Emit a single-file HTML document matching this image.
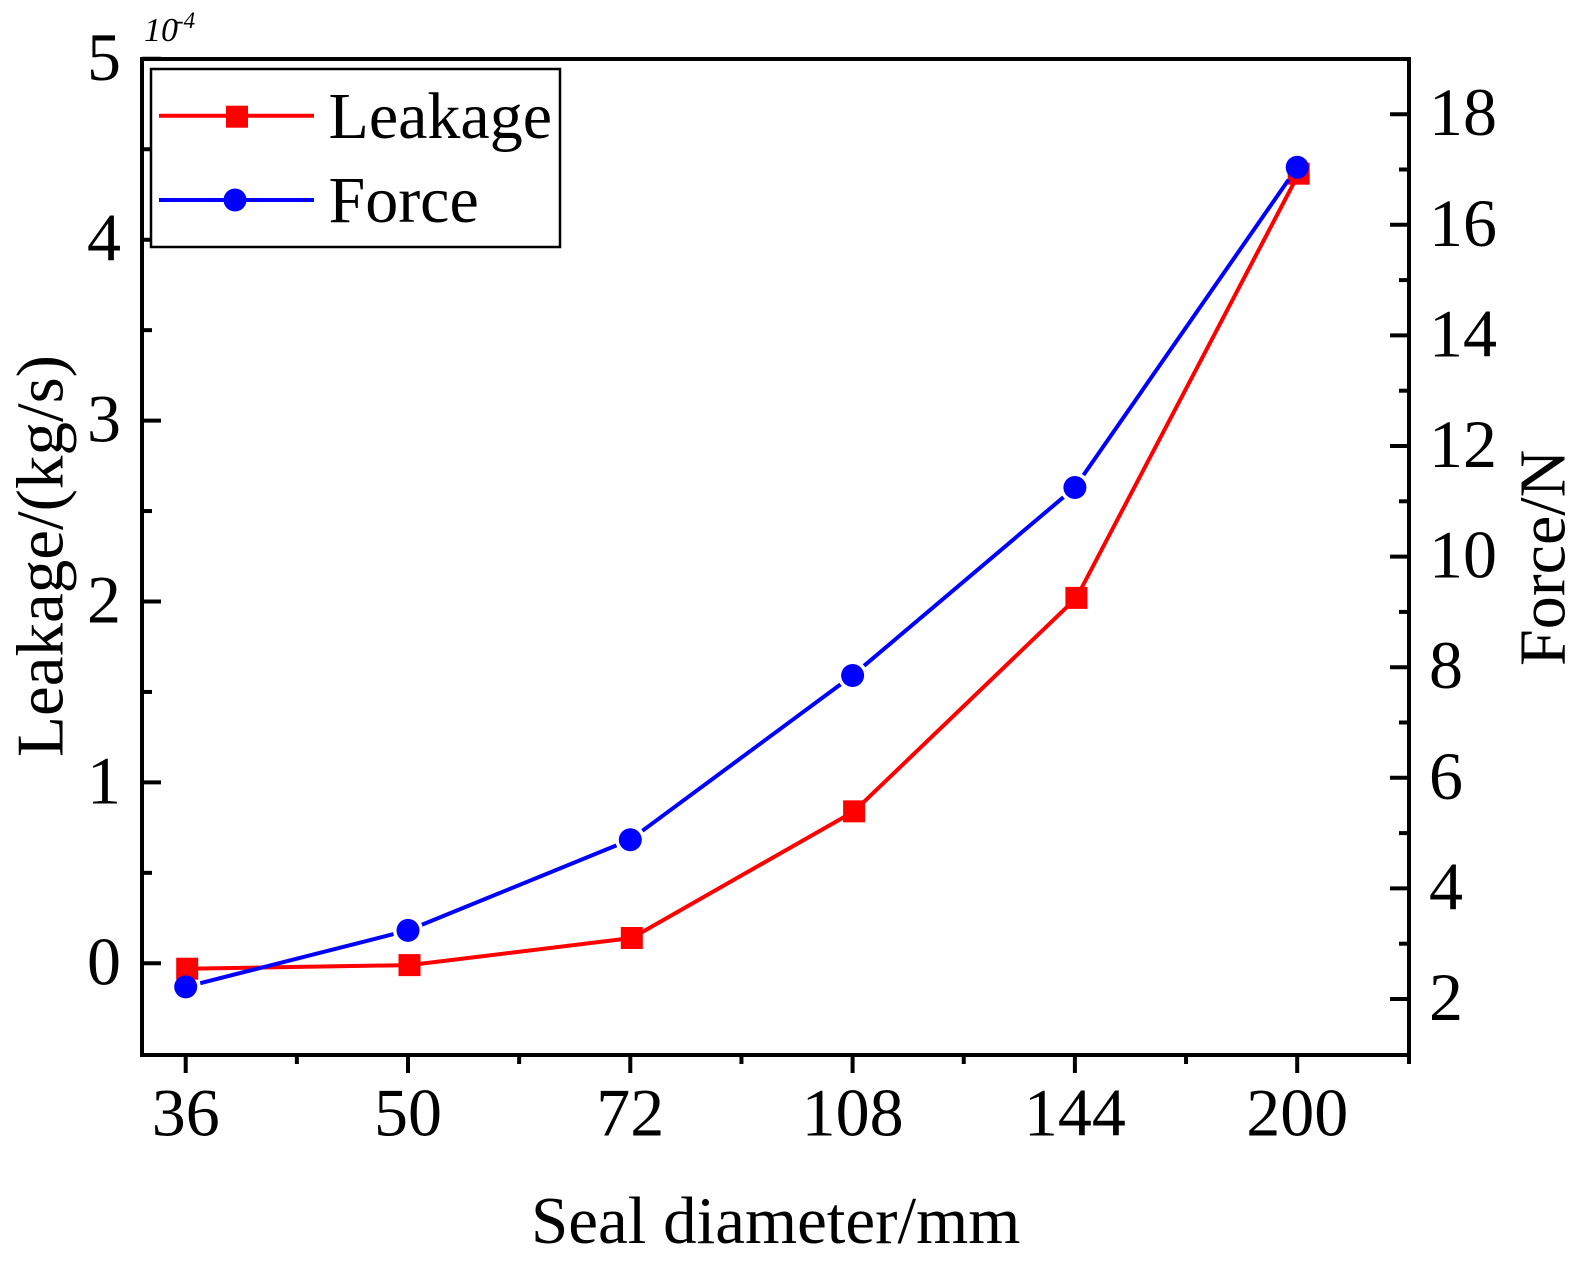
<!DOCTYPE html>
<html lang="en">
<head>
<meta charset="utf-8">
<title>Leakage and Force vs Seal Diameter</title>
<style>
html,body{margin:0;padding:0;background:#fff;width:1591px;height:1263px;overflow:hidden}
svg{display:block}
text{font-family:"Liberation Serif",serif;fill:#000}
</style>
</head>
<body>
<svg id="chart" xmlns="http://www.w3.org/2000/svg" width="1591" height="1263" viewBox="0 0 1591 1263">
  <rect x="0" y="0" width="1591" height="1263" fill="#fff"/>
  <g id="plot"></g>
  <text x="144" y="41" font-size="34" font-style="italic">10<tspan x="176" y="28" font-size="23">-4</tspan></text>
  <text x="531" y="1243" font-size="67">Seal diameter/mm</text>
  <text transform="translate(62.5,757) rotate(-90)" font-size="67" textLength="402" lengthAdjust="spacingAndGlyphs">Leakage/(kg/s)</text>
  <text transform="translate(1564.5,666) rotate(-90)" font-size="66">Force/N</text>
  <g>
    <rect x="151" y="69" width="409" height="178" fill="#fff" stroke="#000" stroke-width="2.5"/>
    <line x1="159" y1="115.7" x2="314" y2="115.7" stroke="#f00" stroke-width="4"/>
    <rect x="226" y="105.7" width="22" height="22" fill="#f00"/>
    <text x="328.5" y="138" font-size="66">Leakage</text>
    <line x1="159" y1="200" x2="314" y2="200" stroke="#00f" stroke-width="4"/>
    <circle cx="235" cy="200" r="11.5" fill="#00f"/>
    <text x="328.5" y="222" font-size="66">Force</text>
  </g>
</svg>
<script>
var categories = ["36", "50", "72", "108", "144", "200"];
var leakageValues = [-0.03, -0.01, 0.14, 0.84, 2.02, 4.365];
var forceValues = [2.22, 3.24, 4.88, 7.85, 11.25, 17.04];
var leftTickLabels = [0, 1, 2, 3, 4, 5];
var leftMinorTicks = [0.5, 1.5, 2.5, 3.5, 4.5];
var rightTickLabels = [2, 4, 6, 8, 10, 12, 14, 16, 18];
var rightMinorTicks = [3, 5, 7, 9, 11, 13, 15, 17];

var SVG_NS = "http://www.w3.org/2000/svg";
var plot = document.getElementById("plot");

function xPos(i) { return 185.7 + 222.3 * i; }
function yLeft(v) { return 963.3 - 180.9 * v; }
function yRight(v) { return 999 - 55.3 * (v - 2); }

function mk(tag, geometry) {
  var el = document.createElementNS(SVG_NS, tag);
  for (var k in geometry) { el.setAttribute(k, geometry[k]); }
  plot.appendChild(el);
  return el;
}

var el, i;

// Axis frame
var top_ = 59, bottom = 1055, left = 142, right = 1409;
el = mk("line", {x1: left - 2, y1: top_, x2: right + 2, y2: top_, stroke: "#000", "stroke-width": 4});


el = mk("line", {x1: left - 2, y1: bottom, x2: right + 2, y2: bottom, stroke: "#000", "stroke-width": 4});


el = mk("line", {x1: left, y1: top_ - 2, x2: left, y2: bottom + 2, stroke: "#000", "stroke-width": 4});


el = mk("line", {x1: right, y1: top_ - 2, x2: right, y2: bottom + 9, stroke: "#000", "stroke-width": 4});



// X ticks and labels
categories.forEach(function (c, idx) {
  var t = mk("line", {x1: xPos(idx), y1: bottom, x2: xPos(idx), y2: bottom + 18, stroke: "#000", "stroke-width": 4});
  
  
  var l = mk("text", {x: xPos(idx), y: 1135.5, "font-size": 68, "text-anchor": "middle"});
  l.textContent = c;
  
  
  if (idx < categories.length - 1) {
    var m = mk("line", {x1: xPos(idx + 0.5), y1: bottom, x2: xPos(idx + 0.5), y2: bottom + 9, stroke: "#000", "stroke-width": 4});
    
    
  }
});

// Left ticks and labels
leftTickLabels.forEach(function (v) {
  var t = mk("line", {x1: left, y1: yLeft(v), x2: left + 19, y2: yLeft(v), stroke: "#000", "stroke-width": 4});
  
  
  var l = mk("text", {x: 121, y: yLeft(v) + 21, "font-size": 68, "text-anchor": "end"});
  l.textContent = v;
  
  
});
leftMinorTicks.forEach(function (v) {
  var t = mk("line", {x1: left, y1: yLeft(v), x2: left + 10, y2: yLeft(v), stroke: "#000", "stroke-width": 4});
  
  
});

// Right ticks and labels
rightTickLabels.forEach(function (v) {
  var t = mk("line", {x1: right, y1: yRight(v), x2: right - 19, y2: yRight(v), stroke: "#000", "stroke-width": 4});
  
  
  var l = mk("text", {x: 1429, y: yRight(v) + 21, "font-size": 68});
  l.textContent = v;
  
  
});
rightMinorTicks.forEach(function (v) {
  var t = mk("line", {x1: right, y1: yRight(v), x2: right - 10, y2: yRight(v), stroke: "#000", "stroke-width": 4});
  
  
});

// Leakage series
var leakPts = leakageValues.map(function (v, idx) { return (xPos(idx) + 1.5) + "," + yLeft(v); }).join(" ");
el = mk("polyline", {points: leakPts, fill: "none", stroke: "#f00", "stroke-width": 4, "stroke-linejoin": "round"});


leakageValues.forEach(function (v, idx) {
  var s = mk("rect", {x: xPos(idx) + 1.5 - 11, y: yLeft(v) - 11, width: 22, height: 22, fill: "#f00"});
  
  
});

// Force series: segments stop short of each marker, leaving a gap
var gap = 15;
for (i = 0; i < forceValues.length - 1; i++) {
  var x1 = xPos(i), y1 = yRight(forceValues[i]);
  var x2 = xPos(i + 1), y2 = yRight(forceValues[i + 1]);
  var d = Math.sqrt((x2 - x1) * (x2 - x1) + (y2 - y1) * (y2 - y1));
  var ux = (x2 - x1) / d, uy = (y2 - y1) / d;
  el = mk("line", {x1: x1 + ux * gap, y1: y1 + uy * gap, x2: x2 - ux * gap, y2: y2 - uy * gap, stroke: "#00f", "stroke-width": 4});
  
  
}
forceValues.forEach(function (v, idx) {
  var c = mk("circle", {cx: xPos(idx), cy: yRight(v), r: 11.5, fill: "#00f"});
  
  
});
</script>
</body>
</html>
